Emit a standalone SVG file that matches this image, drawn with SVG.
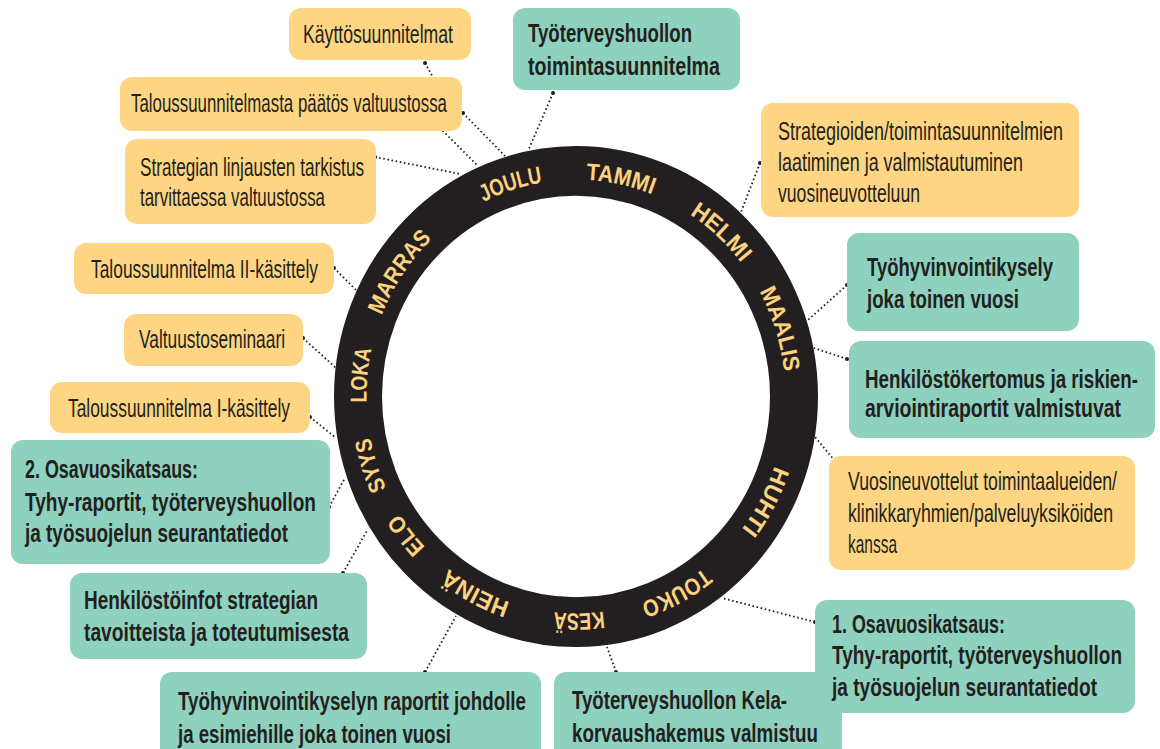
<svg xmlns="http://www.w3.org/2000/svg" width="1160" height="749" viewBox="0 0 1160 749">
<style>
.y{fill:#fed582}
.t{fill:#8ed1be}
.r{font-family:"Liberation Sans",Arial,sans-serif;font-size:26px;fill:#231f20}
.b{font-family:"Liberation Sans",Arial,sans-serif;font-size:26px;font-weight:bold;fill:#231f20}
.c{fill:none;stroke:#231f20;stroke-width:1.8;stroke-dasharray:1.6 2.6}
.d{fill:#231f20}
.m{font-family:"Liberation Sans",Arial,sans-serif;font-size:23px;font-weight:bold;fill:#fcd27e;text-anchor:middle}
</style>
<defs>
<path id="arc" d="M0,-209.5 A209.5,209.5 0 1,1 0,209.5 A209.5,209.5 0 1,1 0,-209.5"/>
</defs>
<rect width="1160" height="749" fill="#ffffff"/>
<g id="connectors">
<polyline class="c" points="425,63 440,90 443,131 478,166"/><circle class="d" cx="425" cy="63" r="2"/>
<line class="c" x1="463" y1="113" x2="505" y2="156"/><circle class="d" cx="463" cy="113" r="2"/>
<line class="c" x1="375" y1="157" x2="460" y2="174"/><circle class="d" cx="375" cy="157" r="2"/>
<line class="c" x1="553" y1="93" x2="528" y2="151"/><circle class="d" cx="553" cy="93" r="2"/>
<line class="c" x1="760" y1="163" x2="741" y2="212"/><circle class="d" cx="760" cy="163" r="2"/>
<line class="c" x1="847" y1="285" x2="808" y2="320"/><circle class="d" cx="847" cy="285" r="2"/>
<line class="c" x1="847" y1="359" x2="814" y2="348"/><circle class="d" cx="847" cy="359" r="2"/>
<line class="c" x1="835" y1="461" x2="815" y2="437"/><circle class="d" cx="835" cy="461" r="2"/>
<line class="c" x1="815" y1="622" x2="722" y2="598"/><circle class="d" cx="815" cy="622" r="2"/>
<line class="c" x1="616" y1="672" x2="607" y2="647"/><circle class="d" cx="616" cy="672" r="2"/>
<line class="c" x1="425" y1="672" x2="456" y2="616"/><circle class="d" cx="425" cy="672" r="2"/>
<line class="c" x1="343" y1="573" x2="368" y2="529"/><circle class="d" cx="343" cy="573" r="2"/>
<line class="c" x1="329" y1="507" x2="345" y2="478"/><circle class="d" cx="329" cy="507" r="2"/>
<line class="c" x1="310" y1="417" x2="336" y2="438"/><circle class="d" cx="310" cy="417" r="2"/>
<line class="c" x1="303" y1="338" x2="336" y2="368"/><circle class="d" cx="303" cy="338" r="2"/>
<line class="c" x1="334" y1="268" x2="356" y2="290"/><circle class="d" cx="334" cy="268" r="2"/>
</g>
<g id="wheel" transform="translate(576,396.5) scale(1,1.035)">
<circle r="218" fill="none" stroke="#231f20" stroke-width="48"/>
<text class="m"><textPath href="#arc" startOffset="44" textLength="68" lengthAdjust="spacingAndGlyphs">TAMMI</textPath></text>
<text class="m"><textPath href="#arc" startOffset="155" textLength="70" lengthAdjust="spacingAndGlyphs">HELMI</textPath></text>
<text class="m"><textPath href="#arc" startOffset="264" textLength="82" lengthAdjust="spacingAndGlyphs">MAALIS</textPath></text>
<text class="m"><textPath href="#arc" startOffset="432" textLength="70" lengthAdjust="spacingAndGlyphs">HUHTI</textPath></text>
<text class="m"><textPath href="#arc" startOffset="556" textLength="72" lengthAdjust="spacingAndGlyphs">TOUKO</textPath></text>
<text class="m"><textPath href="#arc" startOffset="655" textLength="50" lengthAdjust="spacingAndGlyphs">KESÄ</textPath></text>
<text class="m"><textPath href="#arc" startOffset="760" textLength="70" lengthAdjust="spacingAndGlyphs">HEINÄ</textPath></text>
<text class="m"><textPath href="#arc" startOffset="847" textLength="42" lengthAdjust="spacingAndGlyphs">ELO</textPath></text>
<text class="m"><textPath href="#arc" startOffset="921" textLength="52" lengthAdjust="spacingAndGlyphs">SYYS</textPath></text>
<text class="m"><textPath href="#arc" startOffset="1007" textLength="52" lengthAdjust="spacingAndGlyphs">LOKA</textPath></text>
<text class="m"><textPath href="#arc" startOffset="1112" textLength="90" lengthAdjust="spacingAndGlyphs">MARRAS</textPath></text>
<text class="m"><textPath href="#arc" startOffset="1251" textLength="62" lengthAdjust="spacingAndGlyphs">JOULU</textPath></text>
</g>
<g id="n-kayttosuunnitelmat"><rect class="y" x="289" y="8" width="182" height="52" rx="12"/>
<text class="r" x="303" y="43" textLength="150" lengthAdjust="spacingAndGlyphs">Käyttösuunnitelmat</text></g>
<g id="n-talous-paatos"><rect class="y" x="120" y="77" width="342" height="54" rx="12"/>
<text class="r" x="131" y="112" textLength="316" lengthAdjust="spacingAndGlyphs">Taloussuunnitelmasta päätös valtuustossa</text></g>
<g id="n-strategian"><rect class="y" x="125" y="139" width="251" height="85" rx="12"/>
<text class="r" x="140" y="176" textLength="224" lengthAdjust="spacingAndGlyphs">Strategian linjausten tarkistus</text>
<text class="r" x="140" y="206" textLength="185" lengthAdjust="spacingAndGlyphs">tarvittaessa valtuustossa</text></g>
<g id="n-talous-2"><rect class="y" x="74" y="243" width="260" height="51" rx="12"/>
<text class="r" x="91" y="278" textLength="227" lengthAdjust="spacingAndGlyphs">Taloussuunnitelma II-käsittely</text></g>
<g id="n-valtuustoseminaari"><rect class="y" x="124" y="314" width="179" height="52" rx="12"/>
<text class="r" x="139" y="348" textLength="146" lengthAdjust="spacingAndGlyphs">Valtuustoseminaari</text></g>
<g id="n-talous-1"><rect class="y" x="50" y="382" width="260" height="51" rx="12"/>
<text class="r" x="68" y="417" textLength="222" lengthAdjust="spacingAndGlyphs">Taloussuunnitelma I-käsittely</text></g>
<g id="n-strategioiden"><rect class="y" x="761" y="103" width="318" height="114" rx="12"/>
<text class="r" x="778" y="140" textLength="285" lengthAdjust="spacingAndGlyphs">Strategioiden/toimintasuunnitelmien</text>
<text class="r" x="778" y="171" textLength="245" lengthAdjust="spacingAndGlyphs">laatiminen ja valmistautuminen</text>
<text class="r" x="778" y="202" textLength="142" lengthAdjust="spacingAndGlyphs">vuosineuvotteluun</text></g>
<g id="n-vuosineuvottelut"><rect class="y" x="829" y="456" width="306" height="114" rx="12"/>
<text class="r" x="848" y="490" textLength="269" lengthAdjust="spacingAndGlyphs">Vuosineuvottelut toimintaalueiden/</text>
<text class="r" x="848" y="522" textLength="265" lengthAdjust="spacingAndGlyphs">klinikkaryhmien/palveluyksiköiden</text>
<text class="r" x="848" y="553" textLength="49" lengthAdjust="spacingAndGlyphs">kanssa</text></g>
<g id="n-tth-toimintasuunnitelma"><rect class="t" x="513" y="8" width="227" height="82" rx="12"/>
<text class="b" x="528" y="42" textLength="164" lengthAdjust="spacingAndGlyphs">Työterveyshuollon</text>
<text class="b" x="528" y="75" textLength="192" lengthAdjust="spacingAndGlyphs">toimintasuunnitelma</text></g>
<g id="n-tyohyvinvointikysely"><rect class="t" x="847" y="233" width="232" height="98" rx="12"/>
<text class="b" x="867" y="276" textLength="186" lengthAdjust="spacingAndGlyphs">Työhyvinvointikysely</text>
<text class="b" x="867" y="308" textLength="152" lengthAdjust="spacingAndGlyphs">joka toinen vuosi</text></g>
<g id="n-henkilostokertomus"><rect class="t" x="849" y="341" width="306" height="97" rx="12"/>
<text class="b" x="865" y="388" textLength="273" lengthAdjust="spacingAndGlyphs">Henkilöstökertomus ja riskien-</text>
<text class="b" x="865" y="417" textLength="256" lengthAdjust="spacingAndGlyphs">arviointiraportit valmistuvat</text></g>
<g id="n-osavuosi-2"><rect class="t" x="11" y="440" width="319" height="124" rx="12"/>
<text class="b" x="25" y="478" textLength="173" lengthAdjust="spacingAndGlyphs">2. Osavuosikatsaus:</text>
<text class="b" x="25" y="511" textLength="291" lengthAdjust="spacingAndGlyphs">Tyhy-raportit, työterveyshuollon</text>
<text class="b" x="25" y="542" textLength="263" lengthAdjust="spacingAndGlyphs">ja työsuojelun seurantatiedot</text></g>
<g id="n-henkilostoinfot"><rect class="t" x="70" y="573" width="297" height="86" rx="12"/>
<text class="b" x="84" y="609" textLength="234" lengthAdjust="spacingAndGlyphs">Henkilöstöinfot strategian</text>
<text class="b" x="84" y="641" textLength="265" lengthAdjust="spacingAndGlyphs">tavoitteista ja toteutumisesta</text></g>
<g id="n-kela"><rect class="t" x="554" y="672" width="288" height="110" rx="12"/>
<text class="b" x="572" y="709" textLength="215" lengthAdjust="spacingAndGlyphs">Työterveyshuollon Kela-</text>
<text class="b" x="572" y="742" textLength="246" lengthAdjust="spacingAndGlyphs">korvaushakemus valmistuu</text></g>
<g id="n-osavuosi-1"><rect class="t" x="815" y="600" width="320" height="113" rx="12"/>
<text class="b" x="832" y="633" textLength="173" lengthAdjust="spacingAndGlyphs">1. Osavuosikatsaus:</text>
<text class="b" x="832" y="664" textLength="290" lengthAdjust="spacingAndGlyphs">Tyhy-raportit, työterveyshuollon</text>
<text class="b" x="832" y="696" textLength="265" lengthAdjust="spacingAndGlyphs">ja työsuojelun seurantatiedot</text></g>
<g id="n-raportit"><rect class="t" x="160" y="672" width="381" height="110" rx="12"/>
<text class="b" x="178" y="710" textLength="348" lengthAdjust="spacingAndGlyphs">Työhyvinvointikyselyn raportit johdolle</text>
<text class="b" x="178" y="743" textLength="273" lengthAdjust="spacingAndGlyphs">ja esimiehille joka toinen vuosi</text></g>
</svg>
